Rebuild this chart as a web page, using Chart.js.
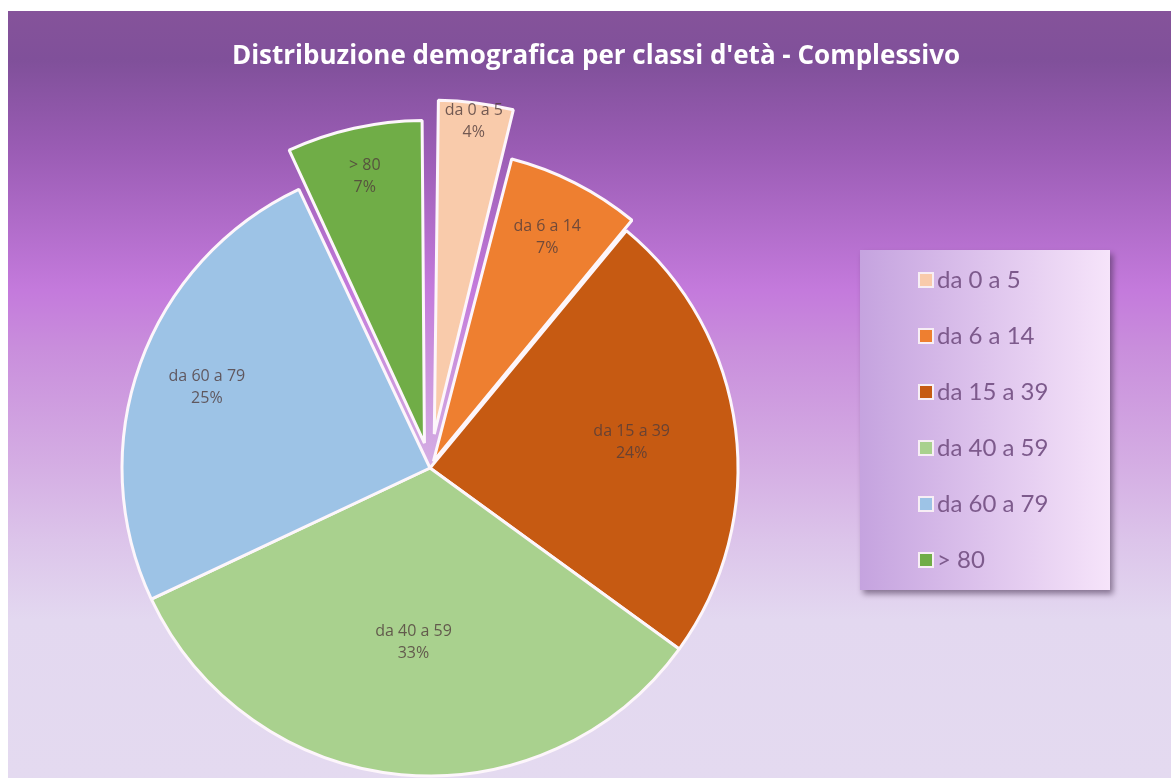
<!DOCTYPE html>
<html>
<head>
<meta charset="utf-8">
<script src="https://cdn.jsdelivr.net/npm/chart.js@4.4.1/dist/chart.umd.min.js"></script>
<style>
  html, body { margin: 0; padding: 0; background: #fff; overflow: hidden; }
  canvas { display: block; }
</style>
</head>
<body>
<canvas id="age_chart" width="1171" height="778"></canvas>
<script>
// data
var age_labels = ["da 0 a 5", "da 6 a 14", "da 15 a 39", "da 40 a 59", "da 60 a 79", "> 80"];
var age_percent = [4, 7, 24, 33, 25, 7];
var chart_title = "Distribuzione demografica per classi d'età - Complessivo";

// styling
var age_colors = ['#f9cbab', '#ee7f30', '#c65a12', '#a9d18e', '#9dc3e6', '#70ad47'];
var explode = [137, 30, 0, 0, 0, 102];
var label_pos = [0.94, 0.8, 0.66, 0.57, 0.77, 0.84];

var backdrop = {
    id: 'backdrop',
    beforeDraw: function(chart) {
        var ctx = chart.ctx;
        ctx.save();
        ctx.fillStyle = '#ffffff';
        ctx.fillRect(0, 0, chart.width, chart.height);

        var g = ctx.createLinearGradient(0, 11, 0, 778);
        g.addColorStop(0, '#85539a');
        g.addColorStop(0.064, '#80509a');
        g.addColorStop(0.18, '#9a5cb4');
        g.addColorStop(0.364, '#c47adc');
        g.addColorStop(0.44, '#c98edc');
        g.addColorStop(0.585, '#d4ace3');
        g.addColorStop(0.69, '#dcc4ea');
        g.addColorStop(0.794, '#e3d8f0');
        g.addColorStop(1, '#e4daf0');
        ctx.fillStyle = g;
        ctx.fillRect(8, 11, chart.width - 8, chart.height - 11);

        // title
        ctx.font = 'bold 26px "Open Sans"';
        ctx.fillStyle = '#ffffff';
        ctx.textAlign = 'center';
        ctx.textBaseline = 'middle';
        ctx.fillText(chart_title, 596, 57);

        // legend box
        ctx.shadowColor = 'rgba(60, 40, 70, 0.55)';
        ctx.shadowBlur = 6;
        ctx.shadowOffsetX = 3;
        ctx.shadowOffsetY = 4;
        var lg = ctx.createLinearGradient(860, 0, 1110, 0);
        lg.addColorStop(0, '#c5a3df');
        lg.addColorStop(1, '#f6e4fa');
        ctx.fillStyle = lg;
        ctx.fillRect(860, 250, 250, 340);
        ctx.shadowColor = 'transparent';

        ctx.font = '24px Lato';
        ctx.textAlign = 'left';
        for (var i = 0; i < age_labels.length; i++) {
            var y = 280 + i * 56;
            ctx.fillStyle = '#f7eef5';
            ctx.fillRect(918, y - 8, 16, 16);
            ctx.fillStyle = age_colors[i];
            ctx.fillRect(920, y - 6, 12, 12);
            ctx.fillStyle = '#7d5a8c';
            ctx.fillText(age_labels[i], 937, y);
        }
        ctx.restore();
    },
    afterDatasetsDraw: function(chart) {
        var ctx = chart.ctx;
        var arcs = chart.getDatasetMeta(0).data;
        var total = age_percent.reduce(function(a, b) { return a + b; }, 0);
        ctx.save();
        ctx.font = '16px "Open Sans"';
        ctx.fillStyle = 'rgba(80, 60, 60, 0.8)';
        ctx.textAlign = 'center';
        ctx.textBaseline = 'middle';
        arcs.forEach(function(arc, i) {
            var mid = (arc.startAngle + arc.endAngle) / 2;
            var circ = arc.endAngle - arc.startAngle;
            var off = (arc.options.offset || 0) / 4;
            var shift = off + off * (1 - Math.sin(Math.min(Math.PI, circ)));
            var r = shift + arc.outerRadius * label_pos[i];
            var x = arc.x + Math.cos(mid) * r;
            var y = arc.y + Math.sin(mid) * r;
            ctx.fillText(age_labels[i], x, y - 11);
            ctx.fillText(Math.round(age_percent[i] / total * 100) + '%', x, y + 11);
        });
        ctx.restore();
    }
};

var age_chart = document.getElementById('age_chart');
var myChart = new Chart(age_chart, {
    type: 'pie',
    data: {
        labels: age_labels,
        datasets: [{
            data: age_percent,
            backgroundColor: age_colors,
            borderColor: '#fdf6fb',
            borderWidth: 3,
            offset: explode,
            hoverOffset: 0,
            clip: false
        }]
    },
    options: {
        responsive: false,
        animation: false,
        events: [],
        radius: 308,
        layout: {
            padding: { left: 0, right: 311, top: 158, bottom: 0 }
        },
        plugins: {
            legend: { display: false },
            tooltip: { enabled: false },
            title: { display: false }
        }
    },
    plugins: [backdrop]
});
</script>
</body>
</html>
